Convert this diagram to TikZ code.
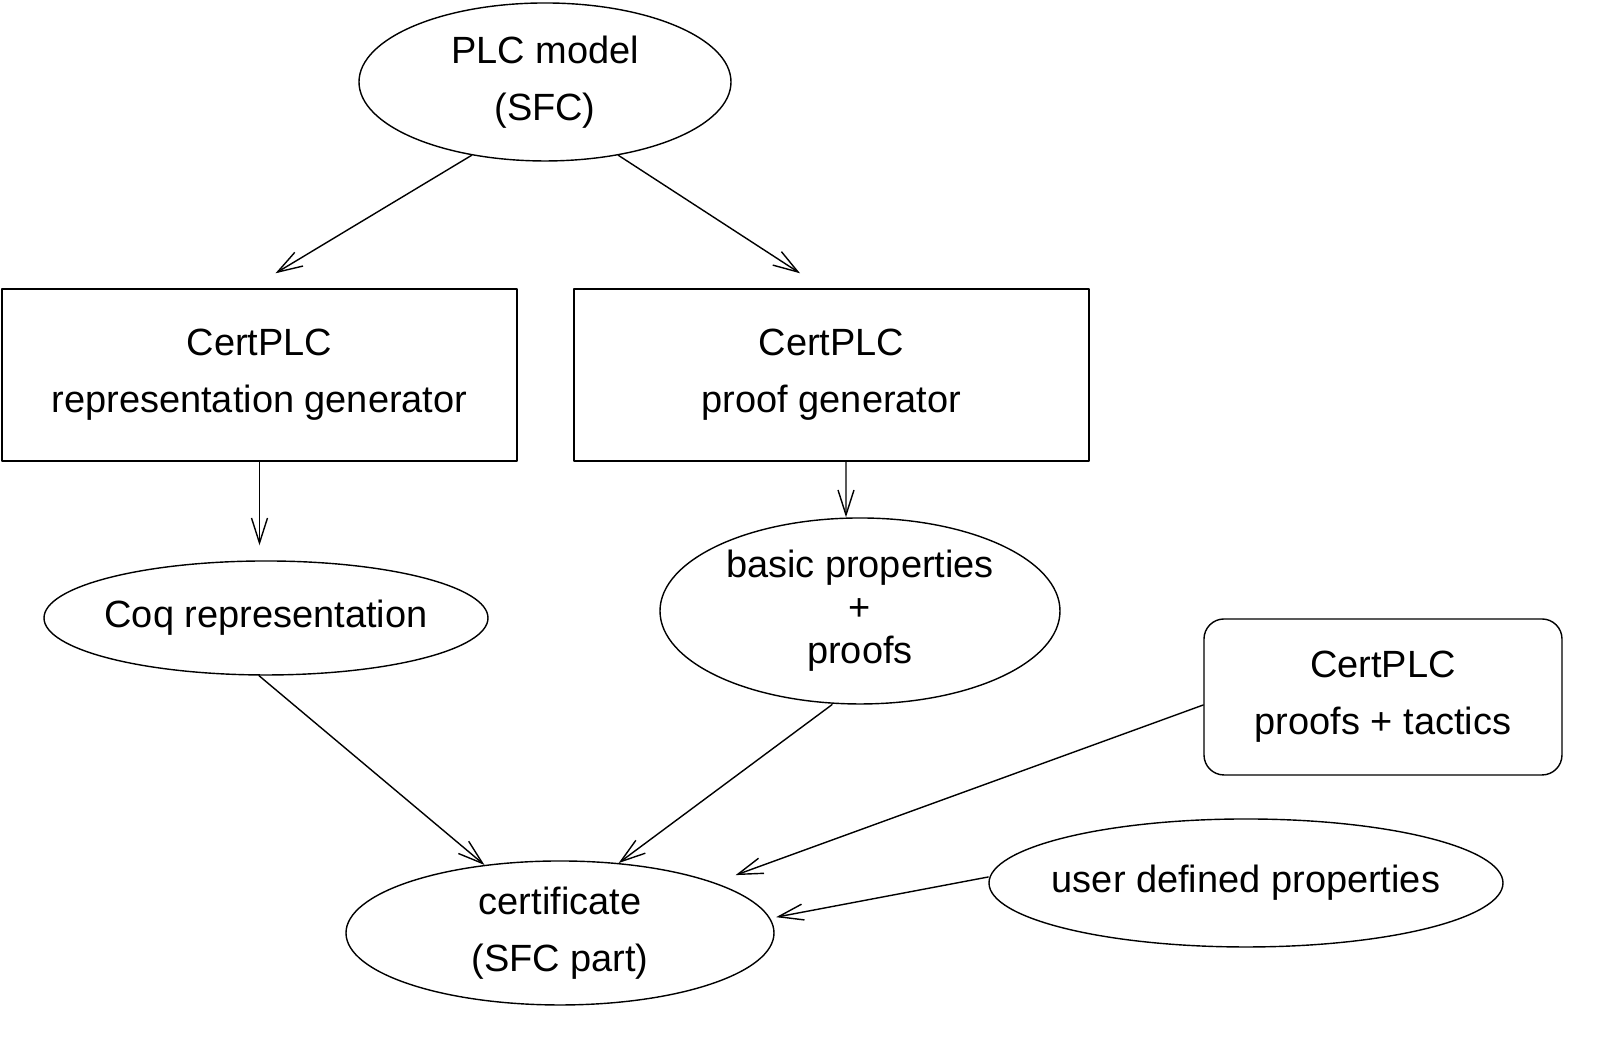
\documentclass[tikz,border=0pt]{standalone}
\usepackage{fontspec}
\setmainfont{Liberation Sans}
\usetikzlibrary{shapes.geometric,arrows.meta}
\begin{document}
\begin{tikzpicture}[font=\fontsize{10.8}{16.2}\selectfont, line join=round, line cap=round, thin,
  >={Straight Barb[length=2.5mm,width=1.6mm]},
  oval/.style={draw, ellipse, inner xsep=-0.2cm, inner ysep=0pt, align=center},
  box/.style={draw, rectangle, inner sep=0pt, align=center, minimum width=5.15cm, minimum height=1.72cm}]
\useasboundingbox (0,0) rectangle (16.24,10.46);
\node[oval, minimum width=3.72cm, minimum height=1.58cm] (plc) at (5.45,9.64) {PLC model\\(SFC)};
\node[box] (repgen) at (2.595,6.71) {CertPLC\\representation generator};
\node[box] (proofgen) at (8.315,6.71) {CertPLC\\proof generator};
\node[oval, minimum width=4.44cm, minimum height=1.14cm] (coq) at (2.66,4.28) {Coq representation};
\node[oval, minimum width=4.00cm, minimum height=1.86cm, font=\fontsize{10.8}{12.2}\selectfont] (basic) at (8.60,4.35) {basic properties\\+\\proofs};
\node[box, rounded corners=0.2cm, minimum width=3.58cm, minimum height=1.56cm] (tactics) at (13.83,3.49) {CertPLC\\proofs + tactics};
\node[oval, minimum width=5.14cm, minimum height=1.28cm] (user) at (12.46,1.63) {user defined properties};
\node[oval, minimum width=4.28cm, minimum height=1.44cm] (cert) at (5.60,1.13) {certificate\\(SFC part)};
\draw[->] (plc.225) -- ([xshift=1.6mm,yshift=1.5mm]repgen.north);
\draw[->] (plc.315) -- ([xshift=-3.15mm,yshift=1.5mm]proofgen.north);
\draw[->, shorten >=1.5mm] (repgen.south) -- (repgen.south |- coq.north);
\draw[->] ([xshift=1.45mm]proofgen.south) -- ([xshift=-1.4mm]basic.north);
\draw[->] ([xshift=-0.7mm]coq.south) -- (cert.138);
\draw[->] ([xshift=-2.8mm]basic.south) -- (cert.50);
\draw[->, shorten >=2.2mm] ([yshift=-0.8mm]tactics.west) -- (cert.18);
\draw[->, shorten >=0.6mm] ([yshift=0.6mm]user.west) -- (cert.4);
\end{tikzpicture}
\end{document}
